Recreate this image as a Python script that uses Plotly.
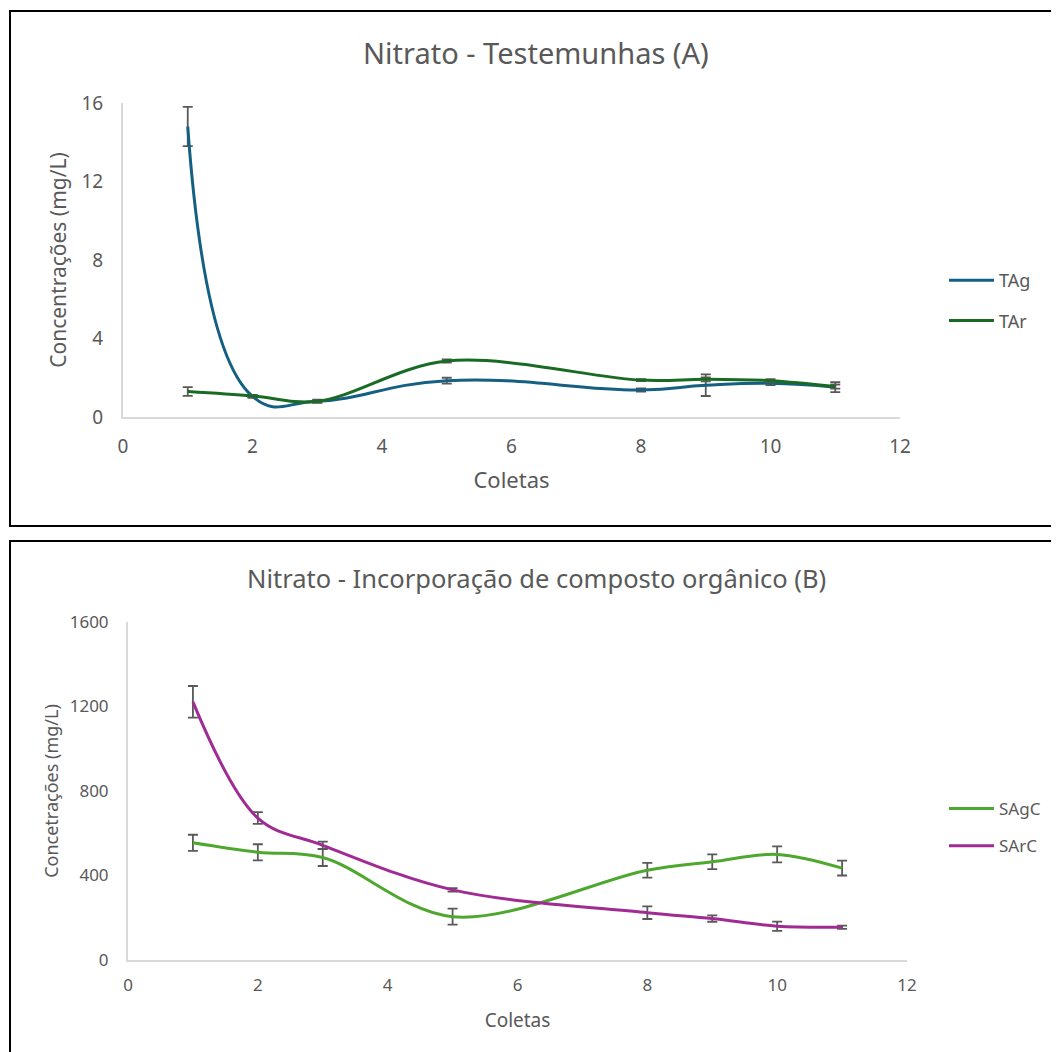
import plotly.graph_objects as go

# ---- data: panel A (Testemunhas) ----
coletas = [1, 2, 3, 5, 8, 9, 10, 11]
tag = [14.8, 1.05, 0.8, 1.85, 1.38, 1.62, 1.72, 1.52]
tag_err = [1.0, 0.08, 0.08, 0.15, 0.08, 0.55, 0.1, 0.25]
tar = [1.3, 1.08, 0.8, 2.85, 1.88, 1.92, 1.85, 1.55]
tar_err = [0.22, 0.05, 0.05, 0.08, 0.05, 0.1, 0.08, 0.1]

# ---- data: panel B (Incorporação de composto orgânico) ----
sagc = [555, 510, 485, 205, 425, 465, 500, 435]
sagc_err = [38, 38, 40, 38, 35, 35, 38, 35]
sarc = [1222, 672, 543, 332, 224, 196, 160, 155]
sarc_err = [75, 28, 17, 8, 30, 15, 22, 8]

x_ticks = [0, 2, 4, 6, 8, 10, 12]
y_ticks_a = [0, 4, 8, 12, 16]
y_ticks_b = [0, 400, 800, 1200, 1600]

# page body has an 8px margin; figure is sized to end at the window edge
OFF = 8
W, H = 1059 - OFF, 1052 - OFF
FONT = "Noto Sans"
GRAY = "#595959"
AXIS = "#d9d9d9"

def px(x):
    return (x - OFF) / W

def py(y):
    return 1 - (y - OFF) / H

err_style = dict(type="data", thickness=1.8, width=5, color=GRAY, visible=True)

fig = go.Figure()
fig.add_trace(go.Scatter(x=coletas, y=tag, name="TAg", mode="lines", legendgroup="a1",
                         line=dict(color="#156082", width=3, shape="spline", smoothing=1.3),
                         error_y=dict(array=tag_err, **err_style),
                         xaxis="x", yaxis="y", legend="legend"))
fig.add_trace(go.Scatter(x=coletas, y=tar, name="TAr", mode="lines", legendgroup="a2",
                         line=dict(color="#196B24", width=3, shape="spline", smoothing=1.0),
                         error_y=dict(array=tar_err, **err_style),
                         xaxis="x", yaxis="y", legend="legend"))
fig.add_trace(go.Scatter(x=coletas, y=sagc, name="SAgC", mode="lines", legendgroup="b1",
                         line=dict(color="#4EA72E", width=3, shape="spline", smoothing=1.0),
                         error_y=dict(array=sagc_err, **err_style),
                         xaxis="x2", yaxis="y2", legend="legend2"))
fig.add_trace(go.Scatter(x=coletas, y=sarc, name="SArC", mode="lines", legendgroup="b2",
                         line=dict(color="#A02B93", width=3, shape="spline", smoothing=1.0),
                         error_y=dict(array=sarc_err, **err_style),
                         xaxis="x2", yaxis="y2", legend="legend2"))

common_axis = dict(showgrid=False, zeroline=False, showline=True, linecolor=AXIS,
                   linewidth=2, ticks="", color=GRAY, automargin=False)

fig.update_layout(
    width=W, height=H,
    margin=dict(l=0, r=0, t=0, b=0, autoexpand=False),
    paper_bgcolor="white", plot_bgcolor="white",
    font=dict(family=FONT, color=GRAY),
    xaxis=dict(domain=[px(123), px(900)], range=[0, 12], tickvals=x_ticks,
               tickfont=dict(size=19), anchor="y", ticklabelstandoff=11,
               title=dict(text="Coletas", font=dict(size=22), standoff=15),
               **common_axis),
    yaxis=dict(domain=[py(417), py(103)], range=[0, 16], tickvals=y_ticks_a,
               tickfont=dict(size=19), anchor="x", ticklabelstandoff=14,
               title=dict(text="Concentrações (mg/L)", font=dict(size=21), standoff=9),
               **common_axis),
    xaxis2=dict(domain=[px(128), px(907)], range=[0, 12], tickvals=x_ticks,
                tickfont=dict(size=17), anchor="y2", ticklabelstandoff=9,
                title=dict(text="Coletas", font=dict(size=19), standoff=18),
                **common_axis),
    yaxis2=dict(domain=[py(960), py(622)], range=[0, 1600], tickvals=y_ticks_b,
                tickfont=dict(size=17), anchor="x2", ticklabelstandoff=14,
                title=dict(text="Concetrações (mg/L)", font=dict(size=18), standoff=6),
                **common_axis),
    legend=dict(x=px(944), y=py(262), xanchor="left", yanchor="top",
                font=dict(size=18, color=GRAY), tracegroupgap=14,
                itemwidth=45, bgcolor="rgba(0,0,0,0)"),
    legend2=dict(x=px(944), y=py(791), xanchor="left", yanchor="top",
                 font=dict(size=17, color=GRAY), tracegroupgap=12,
                 itemwidth=45, bgcolor="rgba(0,0,0,0)"),
    showlegend=True,
    annotations=[
        dict(text="Nitrato - Testemunhas (A)", x=px(536), y=py(52), xref="paper", yref="paper",
             showarrow=False, font=dict(size=29, color=GRAY, family=FONT),
             xanchor="center", yanchor="middle"),
        dict(text="Nitrato - Incorporação de composto orgânico (B)", x=px(536), y=py(578),
             xref="paper", yref="paper", showarrow=False,
             font=dict(size=25.5, color=GRAY, family=FONT), xanchor="center", yanchor="middle"),
    ],
    shapes=[
        dict(type="rect", xref="paper", yref="paper", x0=px(10), x1=px(1070),
             y0=py(526), y1=py(11), line=dict(color="black", width=2)),
        dict(type="rect", xref="paper", yref="paper", x0=px(10), x1=px(1070),
             y0=py(1070), y1=py(541), line=dict(color="black", width=2)),
    ],
)

fig.write_html("out.html")
